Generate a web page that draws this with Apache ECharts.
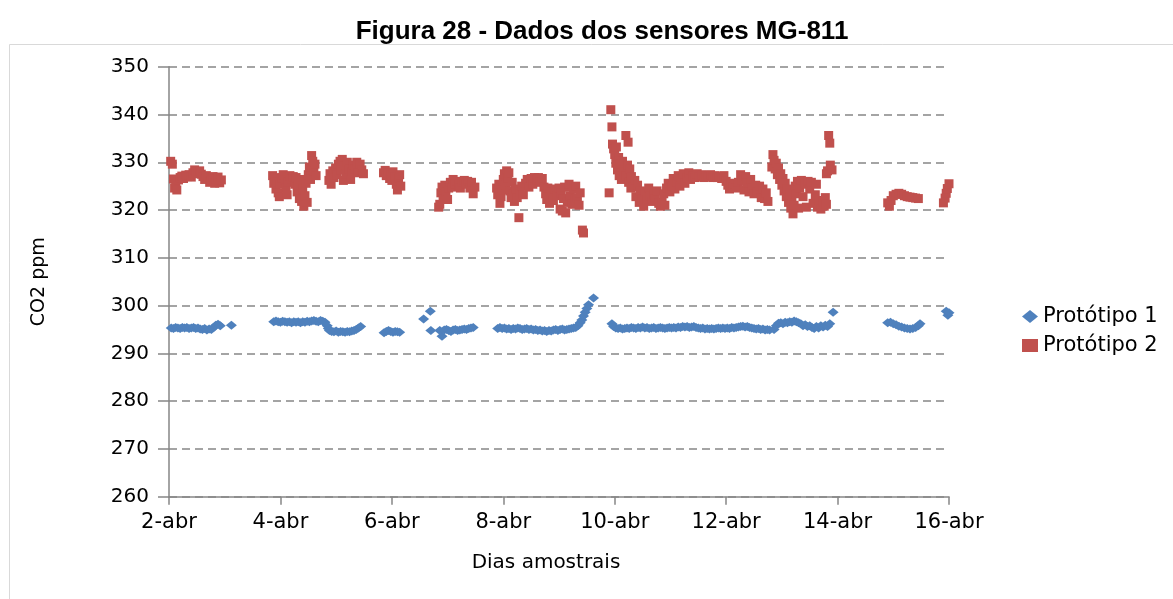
<!DOCTYPE html>
<html>
<head>
<meta charset="utf-8">
<title>Figura 28 - Dados dos sensores MG-811</title>
<script src="https://cdn.jsdelivr.net/npm/echarts@6/dist/echarts.min.js"></script>
<style>
  html, body { margin: 0; padding: 0; background: #ffffff; }
  #chart { width: 1173px; height: 599px; }
</style>
</head>
<body>
<div id="chart"></div>
<script>
// tick labels on the day axis (value 2..16)
const dayTicks = ['2-abr', '4-abr', '6-abr', '8-abr', '10-abr', '12-abr', '14-abr', '16-abr']
const seriesNames = ['Protótipo 1', 'Protótipo 2']

// Protótipo 1 : [dia, ppm]
const proto1 = [
  [2.04,295.3],[2.08,295.2],[2.12,295.4],[2.16,295.3],[2.2,295.2],[2.24,295.4],[2.28,295.3],[2.32,295.4],
  [2.36,295.2],[2.4,295.3],[2.44,295.4],[2.48,295.2],[2.52,295.3],[2.56,295.1],[2.6,295.0],[2.64,295.2],
  [2.68,294.9],[2.72,295.1],[2.76,295.0],[2.8,295.4],[2.84,295.9],[2.88,296.1],[2.92,295.8],
  [3.12,295.9],
  [3.88,296.6],[3.92,296.8],[3.96,296.6],[4.0,296.5],[4.04,296.7],[4.08,296.6],[4.12,296.5],[4.16,296.6],
  [4.2,296.4],[4.24,296.6],[4.28,296.5],[4.32,296.6],[4.36,296.4],[4.4,296.6],[4.44,296.5],[4.48,296.7],
  [4.52,296.6],[4.56,296.8],[4.6,296.9],[4.64,296.7],[4.68,296.6],[4.72,296.9],[4.76,296.7],[4.8,296.5],
  [4.84,295.8],[4.86,295.2],[4.88,294.8],[4.92,294.6],[4.96,294.5],[5.0,294.7],[5.04,294.4],[5.08,294.6],
  [5.12,294.5],[5.16,294.4],[5.2,294.6],[5.24,294.5],[5.28,294.7],[5.32,294.8],[5.36,295.0],[5.4,295.3],
  [5.44,295.6],
  [5.86,294.3],[5.9,294.6],[5.94,294.8],[5.98,294.6],[6.02,294.4],[6.06,294.6],[6.1,294.5],[6.14,294.4],
  [6.57,297.2],[6.69,298.8],[6.7,294.8],[6.9,293.6],
  [6.86,294.8],[6.94,294.9],[6.98,295.0],[7.02,294.8],[7.06,294.6],[7.1,294.9],[7.14,295.0],[7.18,294.8],
  [7.22,294.9],[7.26,295.0],[7.3,295.1],[7.34,295.0],[7.38,295.2],[7.42,295.3],[7.46,295.4],
  [7.9,295.2],[7.94,295.4],[7.98,295.2],[8.02,295.3],[8.06,295.1],[8.1,295.2],[8.14,295.0],[8.18,295.2],
  [8.22,295.1],[8.26,295.3],[8.3,295.2],[8.34,295.0],[8.38,295.1],[8.42,295.2],[8.46,295.0],[8.5,295.1],
  [8.54,294.9],[8.58,295.0],[8.62,294.8],[8.66,294.9],[8.7,294.7],[8.74,294.8],[8.78,294.6],[8.82,294.8],
  [8.86,294.7],[8.9,294.9],[8.94,295.0],[8.98,294.8],[9.02,295.0],[9.06,295.1],[9.1,294.9],[9.14,295.0],
  [9.18,295.1],[9.22,295.2],[9.26,295.3],[9.3,295.4],[9.34,295.8],[9.38,296.4],[9.41,297.0],[9.44,297.8],
  [9.47,298.6],[9.5,299.4],[9.53,300.2],
  [9.62,301.6],
  [9.95,296.2],[9.98,295.6],[10.02,295.3],[10.06,295.2],[10.1,295.3],[10.14,295.1],[10.18,295.2],[10.22,295.3],
  [10.26,295.2],[10.3,295.4],[10.34,295.3],[10.38,295.2],[10.42,295.4],[10.46,295.3],[10.5,295.5],[10.54,295.3],
  [10.58,295.4],[10.62,295.2],[10.66,295.3],[10.7,295.4],[10.74,295.2],[10.78,295.3],[10.82,295.4],[10.86,295.3],
  [10.9,295.2],[10.94,295.3],[10.98,295.4],[11.02,295.3],[11.06,295.4],[11.1,295.3],[11.14,295.5],[11.18,295.4],
  [11.22,295.6],[11.26,295.5],[11.3,295.6],[11.34,295.4],[11.38,295.5],[11.42,295.6],[11.46,295.4],[11.5,295.3],
  [11.54,295.2],[11.58,295.3],[11.62,295.1],[11.66,295.2],[11.7,295.1],[11.74,295.2],[11.78,295.1],[11.82,295.2],
  [11.86,295.3],[11.9,295.2],[11.94,295.3],[11.98,295.2],[12.02,295.3],[12.06,295.2],[12.1,295.4],[12.14,295.3],
  [12.18,295.4],[12.22,295.5],[12.26,295.6],[12.3,295.7],[12.34,295.5],[12.38,295.6],[12.42,295.4],[12.46,295.3],
  [12.5,295.2],[12.54,295.1],[12.58,295.2],[12.62,295.0],[12.66,295.1],[12.7,294.9],[12.74,295.0],[12.78,294.9],
  [12.86,295.0],[12.9,295.8],[12.94,296.3],[12.98,296.4],[13.02,296.2],[13.06,296.5],[13.1,296.4],[13.14,296.6],
  [13.18,296.5],[13.22,296.8],[13.26,296.6],[13.3,296.4],[13.34,296.2],[13.38,295.8],[13.42,296.0],[13.46,295.6],
  [13.5,295.8],[13.54,295.4],[13.58,295.2],[13.62,295.6],[13.66,295.3],[13.7,295.8],[13.74,295.5],[13.78,295.9],
  [13.82,295.6],[13.86,296.2],[13.92,298.6],
  [14.9,296.4],[14.95,296.5],[15.0,296.2],[15.05,296.0],[15.1,295.7],[15.15,295.5],[15.2,295.3],[15.25,295.2],
  [15.3,295.1],[15.35,295.2],[15.4,295.4],[15.45,295.8],[15.48,296.2],
  [15.95,298.8],[15.98,298.0],[16.0,298.5]
]

// Protótipo 2 : [dia, ppm]
const proto2 = [
  [2.03,330.2],[2.06,329.6],[2.08,326.5],[2.1,324.6],[2.12,325.5],[2.14,324.2],[2.17,326.3],[2.2,326.8],
  [2.23,327.1],[2.26,326.6],[2.3,327.3],[2.33,327.0],[2.36,327.4],[2.4,326.9],[2.43,327.8],[2.46,328.4],
  [2.49,328.0],[2.52,327.6],[2.55,328.2],[2.58,327.5],[2.61,327.0],[2.64,326.4],[2.67,327.2],[2.7,326.6],
  [2.73,325.8],[2.76,326.2],[2.79,327.0],[2.82,325.6],[2.85,326.4],[2.88,326.9],[2.91,325.7],[2.94,326.3],
  [3.86,327.2],[3.88,325.6],[3.9,326.6],[3.92,324.4],[3.94,325.8],[3.96,323.6],[3.98,322.8],[4.0,325.4],
  [4.02,326.8],[4.05,327.4],[4.08,326.2],[4.1,324.6],[4.12,323.2],[4.14,325.8],[4.17,327.2],[4.2,326.4],
  [4.23,327.0],[4.26,325.4],[4.28,326.8],[4.3,323.8],[4.32,325.2],[4.34,322.4],[4.36,326.4],[4.38,321.8],
  [4.4,324.4],[4.42,320.8],[4.44,323.0],[4.46,325.6],[4.48,321.6],[4.5,327.4],[4.52,329.0],[4.54,326.4],
  [4.56,331.4],[4.58,330.2],[4.6,328.2],[4.62,329.6],[4.64,327.2],
  [4.87,326.2],[4.89,327.6],[4.91,325.4],[4.94,328.2],[4.96,326.8],[4.99,328.8],[5.02,327.4],[5.04,329.6],
  [5.07,330.2],[5.09,328.4],[5.11,330.6],[5.13,326.2],[5.15,329.2],[5.18,327.6],[5.2,330.0],[5.23,328.6],
  [5.26,326.4],[5.28,328.0],[5.31,329.4],[5.34,328.6],[5.37,330.0],[5.4,327.8],[5.43,329.6],[5.46,328.4],
  [5.49,327.6],
  [5.85,327.8],[5.88,328.3],[5.9,327.2],[5.93,327.8],[5.96,326.6],[5.98,327.4],[6.0,326.2],[6.02,328.0],
  [6.05,327.0],[6.08,325.4],[6.1,324.2],[6.12,326.8],[6.14,327.4],[6.16,325.0],
  [6.84,320.6],[6.86,321.2],[6.88,323.6],[6.9,324.8],[6.92,322.4],[6.95,325.2],[6.97,323.8],[7.0,322.2],
  [7.02,324.6],[7.05,325.8],[7.08,324.8],[7.1,326.4],[7.13,325.4],[7.16,326.0],[7.2,325.2],[7.23,324.6],
  [7.26,325.8],[7.3,326.2],[7.33,325.4],[7.36,326.0],[7.4,324.6],[7.43,325.8],[7.46,323.4],[7.49,324.8],
  [7.88,324.6],[7.9,323.2],[7.92,325.4],[7.94,321.4],[7.96,322.8],[7.98,324.2],[8.0,326.4],[8.02,327.6],
  [8.04,325.2],[8.06,328.2],[8.08,326.8],[8.1,327.8],[8.12,324.0],[8.14,322.6],[8.16,325.8],[8.18,323.4],
  [8.2,321.8],[8.22,324.4],[8.25,322.6],[8.28,318.4],[8.3,323.8],[8.33,325.0],[8.36,323.2],[8.4,325.6],
  [8.43,326.4],[8.46,324.8],[8.5,326.6],[8.53,325.4],[8.56,326.8],[8.6,326.2],[8.63,326.8],[8.66,325.8],
  [8.7,326.6],[8.73,324.8],[8.76,323.4],[8.78,322.2],[8.8,324.6],[8.83,321.4],[8.86,323.8],[8.9,322.0],
  [8.93,324.4],[8.96,323.0],[9.0,324.6],[9.02,320.2],[9.04,323.6],[9.06,319.8],[9.08,322.4],[9.1,324.8],
  [9.12,319.4],[9.15,321.6],[9.18,325.4],[9.2,323.0],[9.23,321.2],[9.26,324.4],[9.28,322.4],[9.3,325.0],
  [9.33,322.6],[9.36,321.0],[9.38,323.6],[9.42,315.8],[9.44,315.2],
  [9.9,323.6],[9.93,341.0],[9.95,337.4],[9.96,333.8],[9.98,332.8],[10.0,331.6],[10.02,329.8],[10.03,333.2],
  [10.05,328.4],[10.07,331.0],[10.08,327.2],[10.1,329.6],[10.12,326.4],[10.14,330.2],[10.16,328.0],[10.2,335.6],
  [10.24,334.2],[10.21,327.2],[10.23,329.4],[10.25,325.8],[10.27,328.6],[10.29,324.6],
  [10.3,327.0],[10.33,324.8],[10.36,326.2],[10.38,322.8],[10.41,325.2],[10.44,321.6],[10.46,324.0],[10.49,322.4],
  [10.52,320.8],[10.55,323.8],[10.58,322.2],[10.61,324.6],[10.64,323.0],[10.67,321.8],[10.7,323.2],[10.73,322.4],
  [10.76,324.0],[10.79,321.4],[10.82,320.8],[10.85,321.6],[10.88,323.4],[10.9,321.0],[10.93,324.6],[10.96,325.6],
  [10.99,323.8],[11.02,325.0],[11.05,326.6],[11.08,324.4],[11.11,325.8],[11.14,327.2],[11.17,325.0],[11.2,326.4],
  [11.23,327.6],[11.26,325.6],[11.3,326.8],[11.33,327.8],[11.36,326.4],[11.4,327.2],[11.44,326.8],[11.48,327.6],
  [11.52,327.0],[11.56,327.4],[11.6,326.8],[11.64,327.2],[11.68,327.0],[11.72,327.4],[11.76,326.8],[11.8,327.2],
  [11.84,326.8],[11.88,327.0],[11.92,326.6],[11.96,327.2],[12.0,326.0],[12.03,325.2],[12.06,324.4],[12.09,325.6],
  [12.12,324.8],[12.15,325.4],[12.18,324.6],[12.22,325.8],[12.26,327.4],[12.29,326.2],[12.32,324.2],[12.35,327.0],
  [12.38,325.6],[12.41,323.8],[12.44,326.4],[12.47,324.6],[12.5,323.4],[12.53,325.2],[12.56,323.8],[12.6,325.0],
  [12.63,322.6],[12.66,324.4],[12.69,322.4],[12.72,323.6],[12.75,321.8],
  [12.82,329.0],[12.84,331.6],[12.86,330.4],[12.88,328.6],[12.9,329.8],[12.92,327.4],[12.94,328.8],[12.96,326.4],
  [12.98,327.6],[13.0,325.2],[13.02,326.6],[13.04,324.0],[13.06,325.6],[13.08,322.8],[13.1,324.4],[13.12,321.6],
  [13.14,323.2],[13.16,320.4],[13.18,322.2],[13.2,319.2],[13.22,321.0],[13.24,325.0],[13.26,323.4],[13.28,326.0],
  [13.3,320.4],[13.32,324.6],[13.35,326.2],[13.38,322.8],[13.41,325.4],[13.44,320.6],[13.47,326.0],[13.5,324.4],
  [13.53,325.8],[13.56,321.4],[13.6,323.2],[13.62,325.4],[13.64,320.6],[13.67,322.0],[13.7,320.2],[13.73,321.6],
  [13.76,320.8],[13.78,322.6],[13.8,321.2],[13.8,327.6],[13.82,328.2],[13.84,335.6],[13.86,334.0],[13.87,329.4],
  [13.9,328.4],
  [14.9,321.5],[14.93,320.8],[14.96,322.0],[15.0,323.0],[15.05,323.3],[15.1,323.5],[15.15,323.3],[15.2,323.0],
  [15.25,322.8],[15.3,322.7],[15.35,322.6],[15.4,322.5],[15.45,322.4],
  [15.9,321.5],[15.93,322.5],[15.95,323.5],[15.97,324.5],[16.0,325.5]
]

const chart = echarts.init(document.getElementById('chart'), null, { renderer: 'canvas' })

const axisGray = '#868686'
const font = 'DejaVu Sans'

chart.setOption({
  backgroundColor: '#ffffff',
  animation: false,
  title: {
    text: 'Figura 28 - Dados dos sensores MG-811',
    left: 597,
    textAlign: 'center',
    top: 14,
    textStyle: {
      fontFamily: 'Liberation Sans',
      fontWeight: 'bold',
      fontSize: 26,
      color: '#000000',
    },
  },
  graphic: [
    {
      type: 'rect',
      shape: { x: 9.5, y: 44.5, width: 1200, height: 600 },
      style: { fill: 'none', stroke: '#d9d9d9', lineWidth: 1 },
      silent: true,
      z: -1,
    },
  ],
  legend: {
    orient: 'vertical',
    left: 1017,
    top: 301,
    itemWidth: 16,
    itemHeight: 13,
    itemGap: 8,
    textStyle: { fontFamily: font, fontSize: 21, color: '#000000', lineHeight: 21 },
    data: seriesNames,
  },
  grid: {
    left: 169,
    right: 224,
    top: 66.7,
    bottom: 102.3,
    containLabel: false,
    outerBoundsMode: 'none',
  },
  xAxis: {
    type: 'value',
    min: 2,
    max: 16,
    interval: 2,
    name: 'Dias amostrais',
    nameLocation: 'middle',
    nameGap: 56,
    nameTextStyle: { fontFamily: font, fontSize: 20, color: '#000000', padding: [0, 26, 0, 0] },
    axisLine: { show: true, lineStyle: { color: axisGray, width: 1.5 } },
    axisTick: { show: true, length: 8, lineStyle: { color: axisGray, width: 1.5 } },
    axisLabel: {
      fontFamily: font,
      fontSize: 21,
      color: '#000000',
      margin: 15,
      showMinLabel: true,
      showMaxLabel: true,
      formatter: (v) => dayTicks[Math.round((v - 2) / 2)] || '',
    },
    splitLine: { show: false },
  },
  yAxis: {
    type: 'value',
    min: 260,
    max: 350,
    interval: 10,
    name: 'CO2 ppm',
    nameLocation: 'middle',
    nameGap: 120,
    nameTextStyle: { fontFamily: font, fontSize: 19, color: '#000000' },
    axisLine: { show: true, lineStyle: { color: axisGray, width: 1.5 } },
    axisTick: { show: true, length: 11, lineStyle: { color: axisGray, width: 1.5 } },
    axisLabel: {
      fontFamily: font,
      fontSize: 20,
      color: '#000000',
      margin: 20,
      showMinLabel: true,
      showMaxLabel: true,
    },
    splitLine: { show: true, lineStyle: { color: axisGray, width: 1.5, type: [8, 5] } },
  },
  series: [
    {
      name: seriesNames[0],
      type: 'scatter',
      data: proto1,
      symbol: 'diamond',
      symbolSize: [11, 9],
      itemStyle: { color: '#4F81BD', opacity: 1 },
      z: 3,
    },
    {
      name: seriesNames[1],
      type: 'scatter',
      data: proto2,
      symbol: 'rect',
      symbolSize: 9,
      itemStyle: { color: '#C0504D', opacity: 1 },
      z: 3,
    },
  ],
})
</script>
</body>
</html>
